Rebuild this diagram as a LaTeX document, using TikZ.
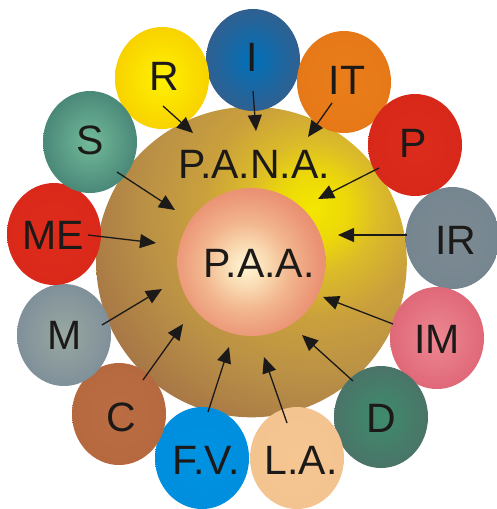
\documentclass[tikz,border=0pt]{standalone}
\usepackage{fontspec}
\setmainfont{Liberation Sans}
\usetikzlibrary{arrows.meta,shapes.geometric}
\definecolor{txt}{RGB}{28,26,24}
\definecolor{ya}{RGB}{244,230,0}
\definecolor{yb}{RGB}{236,216,10}
\definecolor{yc}{RGB}{220,188,40}
\definecolor{yd}{RGB}{202,160,60}
\definecolor{ye}{RGB}{186,144,70}
\definecolor{yf}{RGB}{166,118,70}
\definecolor{pa}{RGB}{255,246,214}
\definecolor{pb}{RGB}{250,220,180}
\definecolor{pc}{RGB}{242,182,142}
\definecolor{pd}{RGB}{236,152,120}
\definecolor{pe}{RGB}{232,140,110}
\definecolor{Iin}{RGB}{0,112,184}     \definecolor{Iout}{RGB}{48,96,144}
\definecolor{Rin}{RGB}{255,242,0}     \definecolor{Rout}{RGB}{248,210,0}
\definecolor{ITin}{RGB}{234,126,26}   \definecolor{ITout}{RGB}{230,120,24}
\definecolor{Pin}{RGB}{220,44,28}     \definecolor{Pout}{RGB}{216,40,26}
\definecolor{IRin}{RGB}{124,138,146}  \definecolor{IRout}{RGB}{118,134,144}
\definecolor{IMin}{RGB}{236,136,146}  \definecolor{IMout}{RGB}{224,104,120}
\definecolor{Din}{RGB}{62,140,108}    \definecolor{Dout}{RGB}{74,116,104}
\definecolor{LAin}{RGB}{245,198,146}  \definecolor{LAout}{RGB}{244,196,144}
\definecolor{FVin}{RGB}{0,146,226}    \definecolor{FVout}{RGB}{0,142,222}
\definecolor{Cin}{RGB}{186,108,66}    \definecolor{Cout}{RGB}{182,104,62}
\definecolor{Min}{RGB}{152,168,160}   \definecolor{Mout}{RGB}{128,144,154}
\definecolor{MEin}{RGB}{222,44,28}    \definecolor{MEout}{RGB}{218,40,26}
\definecolor{Sin}{RGB}{114,186,154}   \definecolor{Sout}{RGB}{74,136,120}
\pgfdeclareradialshading{bigsh}{\pgfpointorigin}{color(0bp)=(ya); color(3.5bp)=(yb); color(6.5bp)=(yc); color(11bp)=(yd); color(17bp)=(ye); color(24bp)=(yf); color(50bp)=(yf)}
\pgfdeclareradialshading{innsh}{\pgfpointorigin}{color(0bp)=(pa); color(5bp)=(pb); color(11bp)=(pc); color(17.5bp)=(pd); color(21bp)=(pe); color(50bp)=(pe)}
\tikzset{
  small/.style={ellipse, minimum width=94pt, minimum height=102pt, inner sep=0pt, draw=none},
  sh/.style={inner color=#1in, outer color=#1out},
  lbl/.style={font=\fontsize{41}{41}\selectfont, text=txt, inner sep=0pt},
  arr/.style={-{Triangle[length=16pt,width=14pt]}, line width=1.3pt, draw=txt},
}
\begin{document}
\begin{tikzpicture}[x=1pt,y=-1pt]
\useasboundingbox (0,0) rectangle (497,509);
% big circle
\coordinate (hl) at (313,208);
\coordinate (hp) at (246,266);
\begin{scope}
  \clip (251.5,262) circle (155.3pt);
  \shade[shading=bigsh] (hl) circle (250pt);
\end{scope}
\begin{scope}
  \clip (251.5,262) circle (74pt);
  \shade[shading=innsh] (hp) circle (100pt);
\end{scope}
% small circles
\node[small, sh=I] (cI) at (253,60) {};
\node[small, sh=R] (cR) at (162,78) {};
\node[small, sh=IT] (cIT) at (344,82) {};
\node[small, sh=P] (cP) at (415,145) {};
\node[small, sh=IR] (cIR) at (452.5,238) {};
\node[small, sh=IM] (cIM) at (437,338) {};
\node[small, sh=D] (cD) at (381,417) {};
\node[small, sh=LA] (cLA) at (297,458) {};
\node[small, sh=FV] (cFV) at (202,458) {};
\node[small, sh=C] (cC) at (119,414) {};
\node[small, sh=M] (cM) at (64,335) {};
\node[small, sh=ME] (cME) at (54,234) {};
\node[small, sh=S] (cS) at (90,142) {};
% labels
\node[lbl] (tPANA) at (254,164) {P.A.N.A.};
\node[lbl] (tPAA) at (259,263) {P.A.A.};
\node[lbl] (tI) at (252,57) {I};
\node[lbl] (tR) at (164,76.5) {R};
\node[lbl] (tIT) at (347,80.7) {IT};
\node[lbl] (tP) at (413,143) {P};
\node[lbl] (tIR) at (456,240) {IR};
\node[lbl] (tIM) at (437,339) {IM};
\node[lbl] (tD) at (381,418) {D};
\node[lbl] (tLA) at (301,460) {L.A.};
\node[lbl] (tFV) at (206,460) {F.V.};
\node[lbl] (tC) at (121,417) {C};
\node[lbl] (tM) at (65,335) {M};
\node[lbl] (tME) at (53,235) {ME};
\node[lbl] (tS) at (90,140) {S};
% arrow ends
\coordinate (sR) at (163,106);   \coordinate (eR) at (193,133);
\coordinate (sI) at (253,91);    \coordinate (eI) at (256,131);
\coordinate (sIT) at (332,103);  \coordinate (eIT) at (308,137);
\coordinate (sP) at (379,168);   \coordinate (eP) at (318,199);
\coordinate (sIR) at (407,235);  \coordinate (eIR) at (338,235);
\coordinate (sIM) at (393,324);  \coordinate (eIM) at (323,297);
\coordinate (sD) at (353,381);   \coordinate (eD) at (302,335);
\coordinate (sLA) at (287,423);  \coordinate (eLA) at (264,357);
\coordinate (sFV) at (208,412);  \coordinate (eFV) at (229,347);
\coordinate (sC) at (143,380);   \coordinate (eC) at (183,324);
\coordinate (sM) at (102,325);   \coordinate (eM) at (162,289);
\coordinate (sME) at (88,235);   \coordinate (eME) at (156,243);
\coordinate (sS) at (117,172);   \coordinate (eS) at (175,210);
\foreach \n in {R,I,IT,P,IR,IM,D,LA,FV,C,M,ME,S}
  \draw[arr] (s\n) -- (e\n);
\end{tikzpicture}
\end{document}
